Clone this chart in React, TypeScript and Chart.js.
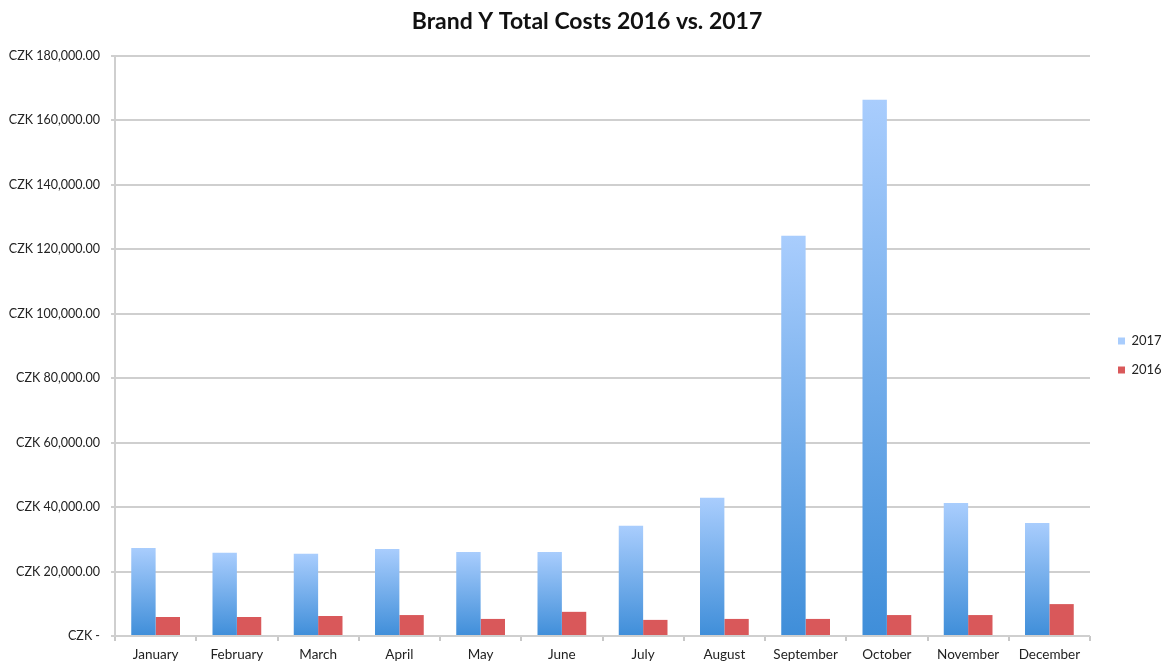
import React, { useEffect, useRef } from "react";
import { Chart, registerables } from "chart.js";

Chart.register(...registerables);

const months = ["January", "February", "March", "April", "May", "June", "July", "August", "September", "October", "November", "December"];
const costs2017 = [27300, 25800, 25500, 27000, 26100, 26100, 34200, 42900, 124200, 166400, 41300, 35100];
const costs2016 = [5900, 5900, 6200, 6500, 5300, 7500, 5000, 5300, 5300, 6500, 6500, 9900];
const yTicks = [0, 20000, 40000, 60000, 80000, 100000, 120000, 140000, 160000, 180000];

const FONT = "Lato, 'Open Sans', sans-serif";
const PAD_LEFT = 8;
const PAD_RIGHT = 1;
const LEGEND_W = 76;

function fmt(v: number): string {
  if (v === 0) return "CZK -";
  return "CZK " + v.toLocaleString("en-US", { minimumFractionDigits: 2, maximumFractionDigits: 2 });
}

const legendShift = {
  id: "legendShift",
  beforeLayout(chart: any) {
    const lg = chart.legend;
    if (lg && !lg._fixedWidth) {
      const f = lg.fit;
      lg.fit = function () {
        f.call(this);
        this.width = LEGEND_W;
      };
      lg._fixedWidth = true;
    }
  },
  afterLayout(chart: any) {
    const lg = chart.legend;
    if (!lg) return;
    const pad = lg.options.labels.padding;
    const targetLeft = chart.chartArea.right + 28 - pad;
    const dx = targetLeft - lg.left;
    lg.left += dx;
    lg.right += dx;
    const dy = 24;
    lg.top += dy;
    lg.bottom += dy;
  },
};

export default function App() {
  const ref = useRef<HTMLCanvasElement | null>(null);
  useEffect(() => {
    if (!ref.current) return;
    const blueGrad = (ctx: any) => {
      const chart = ctx.chart;
      const y = chart.scales?.y;
      if (!y || ctx.raw == null) return "#7fb0ee";
      const top = y.getPixelForValue(ctx.raw);
      const bottom = y.getPixelForValue(0);
      if (!isFinite(top) || !isFinite(bottom) || top === bottom) return "#7fb0ee";
      const g = chart.ctx.createLinearGradient(0, top, 0, bottom);
      g.addColorStop(0, "#a9cdfd");
      g.addColorStop(1, "#3f8ed9");
      return g;
    };
    const chart = new Chart(ref.current, {
      type: "bar",
      data: {
        labels: months,
        datasets: [
          { label: "2017", data: costs2017, backgroundColor: blueGrad as any, borderWidth: 0 },
          { label: "2016", data: costs2016, backgroundColor: "#d9585a", borderWidth: 0 },
        ],
      },
      plugins: [legendShift],
      options: {
        animation: false,
        responsive: true,
        maintainAspectRatio: false,
        datasets: { bar: { categoryPercentage: 0.6, barPercentage: 1.0 } },
        layout: { padding: { left: PAD_LEFT, right: PAD_RIGHT, top: 0, bottom: 0 } },
        plugins: {
          title: {
            display: true,
            text: "Brand Y Total Costs 2016 vs. 2017",
            font: { family: FONT, size: 23, weight: "bold" },
            color: "#111",
            padding: { top: 8, bottom: 20.4 },
          },
          legend: {
            position: "right",
            align: "center",
            labels: {
              boxWidth: 7,
              boxHeight: 7,
              padding: 16,
              font: { family: FONT, size: 13 },
              color: "#222",
            },
          },
          tooltip: { enabled: false },
        },
        scales: {
          x: {
            offset: true,
            afterFit: (scale: any) => {
              scale.height = 27;
            },
            grid: { display: true, drawOnChartArea: false, drawTicks: true, tickLength: 5, offset: true, color: "#c8c8c8", lineWidth: 2 },
            border: { display: false },
            ticks: { font: { family: FONT, size: 13.5 }, color: "#222", padding: 6, maxRotation: 0, autoSkip: false },
          },
          y: {
            min: 0,
            max: 180000,
            afterBuildTicks: (scale: any) => {
              scale.ticks = yTicks.map((v) => ({ value: v }));
            },
            afterFit: (scale: any) => {
              scale.width = 115 - PAD_LEFT;
            },
            grid: { color: "#cfcfcf", lineWidth: 2, tickLength: 4, drawTicks: true },
            border: { display: true, color: "#cfcfcf", width: 2 },
            ticks: {
              font: { family: FONT, size: 12.5 },
              color: "#222",
              padding: 11,
              callback: (v: any) => fmt(Number(v)),
            },
          },
        },
      },
    });
    return () => chart.destroy();
  }, []);
  return (
    <div style={{ position: "fixed", left: 0, top: 0, width: 1167, height: 663, background: "#fff" }}>
      <canvas ref={ref} />
    </div>
  );
}
